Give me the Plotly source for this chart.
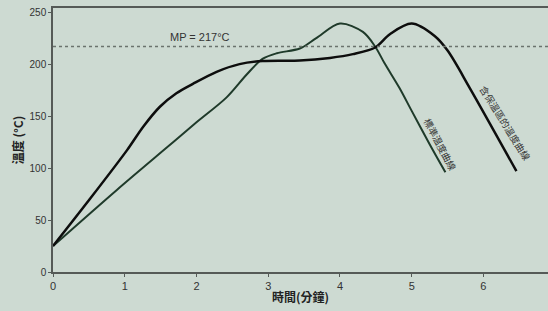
import plotly.graph_objects as go

# Data
soak_x = [0, 0.5, 1.03, 1.26, 1.49, 1.72, 1.95, 2.28, 2.6, 2.92, 3.44, 3.86, 4.18, 4.49, 4.7, 5.0, 5.32, 5.5, 5.81, 6.46]
soak_y = [25, 69, 117, 140, 159, 172, 181, 192.6, 200, 203, 203.5, 206, 209.6, 216, 229, 239, 227, 213, 177, 97]

std_x = [0, 0.89, 1.59, 2.0, 2.42, 2.70, 2.92, 3.12, 3.44, 3.67, 4.0, 4.32, 4.49, 4.62, 4.83, 5.0, 5.25, 5.47]
std_y = [25, 79, 120, 144, 168, 190, 205, 210.5, 215, 225, 239, 231, 217, 201, 177, 155, 123, 96]

mp_value = 217
mp_label = "MP = 217°C"
x_ticks = [0, 1, 2, 3, 4, 5, 6]
y_ticks = [0, 50, 100, 150, 200, 250]

bg = "#cddad2"
axis_col = "#555a57"

fig = go.Figure()
fig.add_trace(go.Scatter(x=std_x, y=std_y, mode="lines",
                         line=dict(color="#1f3a2a", width=2, shape="spline", smoothing=0.9),
                         hoverinfo="skip", showlegend=False))
fig.add_trace(go.Scatter(x=soak_x, y=soak_y, mode="lines",
                         line=dict(color="#0d0d0d", width=2.5, shape="spline", smoothing=0.9),
                         hoverinfo="skip", showlegend=False))

fig.add_shape(type="line", xref="paper", x0=0, x1=1, yref="y", y0=mp_value, y1=mp_value,
              line=dict(color="#6b736e", width=1.5, dash="dot"))

fig.add_annotation(x=2.05, y=226, text=mp_label, showarrow=False,
                   font=dict(family="Liberation Sans, Arial", size=11, color="#333333"))
fig.add_annotation(x=5.40, y=122, text="標準溫度曲線", showarrow=False, textangle=62,
                   font=dict(family="Noto Sans CJK TC", size=9.5, color="#333333"))
fig.add_annotation(x=6.30, y=143, text="含保溫區的溫度曲線", showarrow=False, textangle=58,
                   font=dict(family="Noto Sans CJK TC", size=9.5, color="#333333"))

fig.update_layout(
    width=548, height=311,
    margin=dict(l=53, r=0, t=8, b=39),
    paper_bgcolor=bg, plot_bgcolor=bg,
    font=dict(family="Liberation Sans, Arial", size=11, color="#333333"),
    xaxis=dict(range=[0, 6.9], tickvals=x_ticks, ticks="outside", ticklen=3,
               tickcolor=axis_col, showgrid=False, zeroline=False, automargin=False,
               showline=True, linecolor=axis_col, linewidth=1.5, mirror=True,
               tickfont=dict(size=11, color="#333333"),
               title=dict(text="<b>時間(分鐘)</b>", standoff=3,
                          font=dict(family="Noto Sans CJK TC", size=12, color="#222222"))),
    yaxis=dict(range=[0, 254], tickvals=y_ticks, ticks="outside", ticklen=3,
               tickcolor=axis_col, showgrid=False, zeroline=False, automargin=False,
               showline=True, linecolor=axis_col, linewidth=1.5,
               tickfont=dict(size=10, color="#333333"),
               title=dict(text="<b>溫度 (°C)</b>", standoff=3,
                          font=dict(family="Noto Sans CJK TC", size=12, color="#222222"))),
)

fig.write_html("out.html", config={"displayModeBar": False},
               post_script="document.body.style.margin='0';document.body.style.overflow='hidden';document.body.style.background='%s';" % bg)
